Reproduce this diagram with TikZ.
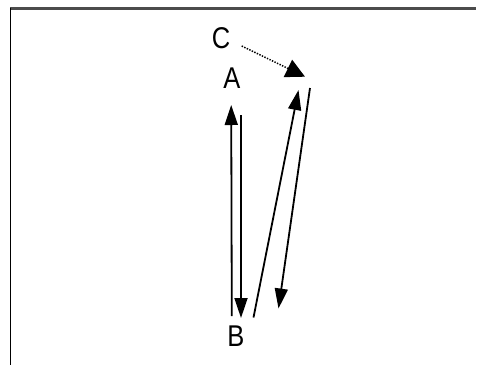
\documentclass[tikz,border=0pt]{standalone}
\usepackage{fontspec}
\setmainfont{Liberation Sans}
\usetikzlibrary{arrows.meta}
\begin{document}
\begin{tikzpicture}[x=1pt,y=-1pt,
  lbl/.style={font=\fontsize{30}{30}\selectfont, inner sep=0pt},
  conn/.style={line width=1.8pt},
  tipv/.style={-{Triangle[length=20pt,width=13pt]}},
  dotconn/.style={line width=1.5pt, dash pattern=on 1.4pt off 1.4pt, -{Triangle[length=19pt,width=19pt]}},
  frametop/.style={line width=2.2pt, draw=black!70},
  frameleft/.style={line width=1.6pt, draw=black}]
\useasboundingbox (0,0) rectangle (477,365);
\draw[frametop] (10,8.5) -- (476,8.5);
\draw[frameleft] (10.5,8) -- (10.5,365);
\node[lbl] (C) at (221,38.5) {\scalebox{0.85}[1]{C}};
\node[lbl] (A) at (232,78) {\scalebox{0.85}[1]{A}};
\node[lbl] (B) at (236,336) {\scalebox{0.85}[1]{B}};
\coordinate (cs) at (241.7,46);
\coordinate (ce) at (305,76.7);
\coordinate (a1) at (231.8,316);
\coordinate (a2) at (231.2,105);
\coordinate (b1) at (241,115);
\coordinate (b2) at (241,318);
\coordinate (c1) at (253.5,317.5);
\coordinate (c2) at (298.5,90);
\coordinate (d1) at (310,88);
\coordinate (d2) at (278.5,308.5);
\draw[dotconn] (cs) -- (ce);
\draw[conn,tipv] (a1) -- (a2);
\draw[conn,tipv] (b1) -- (b2);
\draw[conn,tipv] (c1) -- (c2);
\draw[conn,tipv] (d1) -- (d2);
\end{tikzpicture}
\end{document}
